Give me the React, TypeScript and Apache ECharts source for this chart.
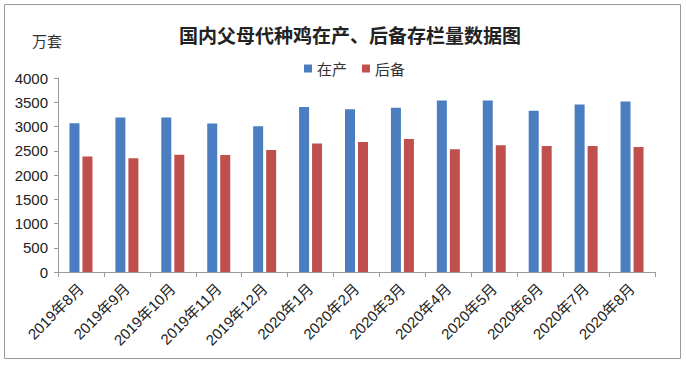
import React, { useEffect, useRef } from "react";
import * as echarts from "echarts";

const categories = [
  "2019年8月", "2019年9月", "2019年10月", "2019年11月", "2019年12月",
  "2020年1月", "2020年2月", "2020年3月", "2020年4月", "2020年5月",
  "2020年6月", "2020年7月", "2020年8月",
];
const producing = [3069, 3185, 3185, 3061, 3007, 3400, 3358, 3386, 3537, 3537, 3323, 3454, 3516];
const reserve = [2379, 2345, 2420, 2413, 2517, 2647, 2682, 2744, 2531, 2613, 2600, 2600, 2579];
const seriesNames = ["在产", "后备"];
const titleText = "国内父母代种鸡在产、后备存栏量数据图";
const unitText = "万套";

export default function App() {
  const ref = useRef<HTMLDivElement>(null);
  useEffect(() => {
    if (!ref.current) return;
    const chart = echarts.init(ref.current, undefined, { renderer: "svg" });
    const font = "'Noto Sans CJK SC', 'Noto Sans', sans-serif";
    const numFont = "'Liberation Sans', 'Noto Sans CJK SC', sans-serif";
    chart.setOption({
      animation: false,
      backgroundColor: "#ffffff",
      textStyle: { fontFamily: font },
      title: {
        text: titleText,
        left: 345,
        textAlign: "center",
        top: 20,
        textStyle: { fontSize: 19, fontWeight: "bold", color: "#222", fontFamily: font },
      },
      graphic: [
        {
          type: "rect",
          shape: { x: 4.5, y: 4.5, width: 676, height: 354 },
          style: { fill: "none", stroke: "#9a9a9a", lineWidth: 1 },
          silent: true,
        },
        {
          type: "text",
          left: 32,
          top: 33,
          style: { text: unitText, fontSize: 15, fill: "#333", fontFamily: font },
        },
      ],
      legend: {
        data: seriesNames,
        top: 56,
        left: 299,
        itemWidth: 8,
        itemHeight: 8,
        itemGap: 15,
        icon: "rect",
        textStyle: { fontSize: 15, color: "#333", fontFamily: font },
      },
      grid: { left: 58, right: 31, top: 78, bottom: 93 },
      xAxis: {
        type: "category",
        data: categories,
        axisLine: { lineStyle: { color: "#9a9a9a" } },
        axisTick: { show: true, alignWithLabel: false, length: 5, lineStyle: { color: "#9a9a9a" } },
        axisLabel: { rotate: 45, fontSize: 15, color: "#222", margin: 14, interval: 0, fontFamily: numFont },
      },
      yAxis: {
        type: "value",
        min: 0,
        max: 4000,
        interval: 500,
        axisLine: { show: true, lineStyle: { color: "#9a9a9a" } },
        axisTick: { show: true, length: 4, lineStyle: { color: "#9a9a9a" } },
        splitLine: { show: false },
        axisLabel: {
          fontSize: 15,
          color: "#222",
          margin: 10,
          fontFamily: numFont,
          formatter: (v: number) => String(v),
        },
      },
      series: [
        {
          name: seriesNames[0],
          type: "bar",
          data: producing,
          barWidth: 10,
          barGap: "30%",
          itemStyle: { color: "#4A7EC1" },
        },
        {
          name: seriesNames[1],
          type: "bar",
          data: reserve,
          barWidth: 10,
          itemStyle: { color: "#C0504D" },
        },
      ],
    });
    return () => chart.dispose();
  }, []);
  return (
    <div
      ref={ref}
      style={{ position: "fixed", left: 0, top: 0, width: 686, height: 365 }}
    />
  );
}
